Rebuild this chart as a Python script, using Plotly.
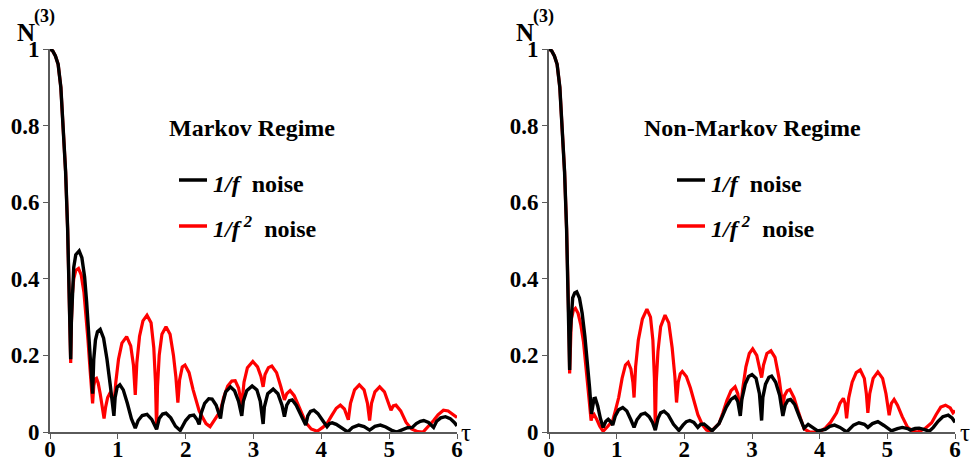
import plotly.graph_objects as go

# ---------------- data ----------------
tau_markov_f = [0, 0.04, 0.08, 0.12, 0.16, 0.2, 0.23, 0.26, 0.28, 0.295, 0.305,
    0.315, 0.33, 0.35, 0.38, 0.43, 0.47, 0.51, 0.54, 0.57, 0.6, 0.628,
    0.645, 0.67, 0.7, 0.74, 0.79, 0.84, 0.89, 0.942,
    0.96, 0.99, 1.03, 1.08, 1.14, 1.2, 1.257,
    1.3, 1.36, 1.43, 1.5, 1.571,
    1.61, 1.66, 1.71, 1.78, 1.85, 1.92,
    2.0, 2.06, 2.12, 2.17, 2.199,
    2.23, 2.28, 2.34, 2.39, 2.45, 2.513,
    2.54, 2.59, 2.66, 2.72, 2.78, 2.827,
    2.85, 2.9, 2.98, 3.05, 3.1, 3.142,
    3.16, 3.21, 3.29, 3.36, 3.42, 3.456,
    3.49, 3.53, 3.57, 3.63, 3.7, 3.77,
    3.8, 3.84, 3.89, 3.95, 4.02, 4.084,
    4.12, 4.16, 4.22, 4.3, 4.39,
    4.46, 4.55, 4.63, 4.712,
    4.79, 4.87, 4.95, 5.03, 5.11,
    5.2, 5.27, 5.34,
    5.4, 5.46, 5.51, 5.58, 5.655,
    5.7, 5.76, 5.83, 5.9, 5.96, 6.0]
N_markov_f = [1, 0.995, 0.982, 0.96, 0.9, 0.79, 0.68, 0.53, 0.40, 0.29, 0.19,
    0.29, 0.38, 0.43, 0.463, 0.473, 0.455, 0.405, 0.34, 0.265, 0.18, 0.10,
    0.19, 0.24, 0.262, 0.268, 0.245, 0.19, 0.12, 0.042,
    0.09, 0.117, 0.123, 0.11, 0.075, 0.035, 0.01,
    0.03, 0.043, 0.046, 0.033, 0.007,
    0.035, 0.047, 0.049, 0.037, 0.015, 0.004,
    0.03, 0.042, 0.044, 0.032, 0.02,
    0.05, 0.075, 0.087, 0.086, 0.07, 0.035,
    0.07, 0.105, 0.118, 0.108, 0.08, 0.042,
    0.08, 0.108, 0.12, 0.11, 0.08, 0.021,
    0.065, 0.1, 0.112, 0.1, 0.07, 0.04,
    0.07, 0.082, 0.084, 0.07, 0.045, 0.018,
    0.042, 0.054, 0.057, 0.048, 0.03, 0.014,
    0.022, 0.024, 0.02, 0.01, 0.0,
    0.012, 0.018, 0.014, 0.005,
    0.015, 0.018, 0.013, 0.005, 0.0,
    0.007, 0.011, 0.012,
    0.022, 0.028, 0.03, 0.025, 0.012,
    0.028, 0.037, 0.04, 0.035, 0.025, 0.016]

tau_markov_f2 = [0, 0.04, 0.08, 0.12, 0.16, 0.2, 0.23, 0.26, 0.28, 0.295, 0.305,
    0.315, 0.33, 0.35, 0.38, 0.42, 0.46, 0.5, 0.53, 0.56, 0.59, 0.628,
    0.645, 0.665, 0.685, 0.71, 0.74, 0.77, 0.797,
    0.82, 0.85, 0.88, 0.91, 0.942,
    0.97, 1.01, 1.06, 1.13, 1.19, 1.23, 1.257,
    1.28, 1.32, 1.37, 1.43, 1.49, 1.53, 1.555, 1.571,
    1.585, 1.61, 1.65, 1.71, 1.77, 1.82, 1.855, 1.885,
    1.91, 1.95, 1.99, 2.05, 2.11, 2.16, 2.199,
    2.25, 2.3, 2.36, 2.42, 2.47, 2.513,
    2.56, 2.62, 2.68, 2.73, 2.78, 2.827,
    2.86, 2.91, 2.99, 3.06, 3.11, 3.142,
    3.17, 3.22, 3.27, 3.34, 3.4, 3.456,
    3.49, 3.54, 3.6, 3.67, 3.74, 3.77,
    3.85, 3.94, 4.02, 4.084,
    4.15, 4.22, 4.28, 4.34, 4.398,
    4.43, 4.49, 4.56, 4.63, 4.68, 4.712,
    4.74, 4.79, 4.86, 4.93, 4.99, 5.027,
    5.06, 5.1, 5.17, 5.25, 5.33, 5.42, 5.5,
    5.58, 5.655, 5.72, 5.8, 5.87, 5.94, 6.0]
N_markov_f2 = [1, 0.995, 0.982, 0.96, 0.9, 0.79, 0.68, 0.53, 0.40, 0.28, 0.18,
    0.28, 0.36, 0.40, 0.422, 0.427, 0.41, 0.365, 0.31, 0.24, 0.165, 0.075,
    0.12, 0.138, 0.14, 0.128, 0.1, 0.065, 0.035,
    0.065, 0.09, 0.1, 0.095, 0.07,
    0.13, 0.19, 0.232, 0.249, 0.225, 0.175, 0.097,
    0.18, 0.25, 0.29, 0.305, 0.285, 0.22, 0.13, 0.008,
    0.12, 0.2, 0.255, 0.275, 0.255, 0.2, 0.145, 0.077,
    0.135, 0.17, 0.175, 0.155, 0.11, 0.075, 0.055,
    0.038, 0.022, 0.014, 0.03, 0.045, 0.055,
    0.09, 0.12, 0.133, 0.134, 0.115, 0.07,
    0.13, 0.168, 0.184, 0.17, 0.145, 0.118,
    0.15, 0.168, 0.172, 0.155, 0.12, 0.084,
    0.1, 0.108, 0.095, 0.065, 0.033, 0.025,
    0.008, 0.002, 0.012, 0.022,
    0.042, 0.062, 0.07, 0.06, 0.032,
    0.075, 0.11, 0.123, 0.11, 0.075, 0.03,
    0.075, 0.105, 0.118, 0.105, 0.078, 0.057,
    0.068, 0.07, 0.055, 0.025, 0.008, 0.001, 0.0,
    0.015, 0.03, 0.045, 0.057, 0.055, 0.045, 0.038]

tau_nonmarkov_f = [0, 0.04, 0.08, 0.12, 0.16, 0.2, 0.23, 0.26, 0.28, 0.295, 0.305,
    0.315, 0.33, 0.35, 0.38, 0.41, 0.45, 0.49, 0.53, 0.57, 0.6, 0.628,
    0.645, 0.665, 0.685, 0.72, 0.76, 0.8,
    0.84, 0.875, 0.91, 0.942,
    0.98, 1.03, 1.09, 1.15, 1.21, 1.257,
    1.3, 1.36, 1.42, 1.48, 1.53, 1.571,
    1.61, 1.65, 1.7, 1.76, 1.84, 1.92,
    1.98, 2.03, 2.08, 2.14, 2.199,
    2.24, 2.29, 2.35, 2.41, 2.46, 2.513,
    2.56, 2.62, 2.69, 2.75, 2.79, 2.827,
    2.85, 2.9, 2.95, 3.0, 3.06, 3.11, 3.142,
    3.16, 3.2, 3.25, 3.29, 3.35, 3.41, 3.456,
    3.49, 3.53, 3.57, 3.63, 3.7, 3.77,
    3.83, 3.9, 3.97, 4.03, 4.084,
    4.15, 4.22, 4.3, 4.4, 4.5, 4.58, 4.66, 4.712,
    4.78, 4.86, 4.95, 5.06, 5.15, 5.22, 5.3, 5.34,
    5.41, 5.47, 5.55, 5.62, 5.68, 5.75, 5.82, 5.9, 5.96, 6.0]
N_nonmarkov_f = [1, 0.995, 0.982, 0.96, 0.9, 0.79, 0.68, 0.53, 0.40, 0.28, 0.162,
    0.26, 0.32, 0.35, 0.363, 0.366, 0.35, 0.31, 0.25, 0.18, 0.115, 0.047,
    0.075, 0.087, 0.088, 0.068, 0.035, 0.012,
    0.028, 0.033, 0.027, 0.018,
    0.042, 0.058, 0.064, 0.055, 0.032, 0.012,
    0.032, 0.046, 0.049, 0.04, 0.025, 0.005,
    0.035, 0.05, 0.054, 0.045, 0.02, 0.004,
    0.018, 0.027, 0.03, 0.025, 0.012,
    0.02, 0.021, 0.012, 0.003, 0.012, 0.022,
    0.04, 0.065, 0.085, 0.092, 0.08, 0.042,
    0.085, 0.125, 0.145, 0.15, 0.14, 0.1, 0.03,
    0.09, 0.125, 0.143, 0.146, 0.13, 0.095, 0.042,
    0.07, 0.083, 0.085, 0.072, 0.04, 0.01,
    0.02, 0.012, 0.003, 0.005, 0.007,
    0.015, 0.018, 0.012, 0.0, 0.018, 0.024, 0.02, 0.012,
    0.022, 0.027, 0.017, 0.003, 0.009, 0.012, 0.009, 0.005,
    0.009, 0.01, 0.006, 0.002, 0.012, 0.028, 0.04, 0.044, 0.036, 0.025]

tau_nonmarkov_f2 = [0, 0.04, 0.08, 0.12, 0.16, 0.2, 0.23, 0.26, 0.28, 0.295, 0.305,
    0.315, 0.33, 0.36, 0.39, 0.43, 0.47, 0.51, 0.55, 0.59, 0.622,
    0.64, 0.665, 0.7, 0.75, 0.8, 0.87, 0.942,
    0.98, 1.03, 1.08, 1.13, 1.17, 1.21, 1.24, 1.257,
    1.28, 1.32, 1.38, 1.447, 1.5, 1.535, 1.558, 1.571,
    1.585, 1.61, 1.65, 1.715, 1.77, 1.82, 1.86, 1.885,
    1.91, 1.94, 1.97, 2.03, 2.09, 2.15, 2.2, 2.27, 2.33, 2.39, 2.45, 2.513,
    2.57, 2.63, 2.69, 2.75, 2.79, 2.827,
    2.86, 2.91, 2.96, 3.01, 3.07, 3.11, 3.142,
    3.17, 3.22, 3.28, 3.34, 3.4, 3.456,
    3.48, 3.52, 3.56, 3.62, 3.69, 3.77,
    3.85, 3.95, 4.03, 4.084, 4.16, 4.25, 4.3, 4.35, 4.375, 4.398,
    4.43, 4.48, 4.54, 4.6, 4.66, 4.69, 4.712,
    4.74, 4.79, 4.86, 4.93, 4.98, 5.027,
    5.06, 5.1, 5.15, 5.22, 5.3, 5.38, 5.45, 5.55, 5.655,
    5.72, 5.79, 5.86, 5.93, 5.97, 6.0]
N_nonmarkov_f2 = [1, 0.995, 0.982, 0.96, 0.9, 0.79, 0.68, 0.53, 0.40, 0.27, 0.153,
    0.25, 0.295, 0.318, 0.323, 0.31, 0.28, 0.235, 0.17, 0.09, 0.03,
    0.042, 0.046, 0.035, 0.015, 0.002, 0.015, 0.03,
    0.055, 0.09, 0.14, 0.175, 0.182, 0.165, 0.13, 0.09,
    0.17, 0.24, 0.295, 0.321, 0.3, 0.24, 0.14, 0.005,
    0.13, 0.21, 0.275, 0.305, 0.285, 0.22, 0.145, 0.077,
    0.13, 0.152, 0.158, 0.145, 0.115, 0.075, 0.045, 0.018, 0.005, 0.001, 0.01, 0.022,
    0.05, 0.083, 0.108, 0.118, 0.1, 0.053,
    0.11, 0.17, 0.205, 0.217, 0.2, 0.17, 0.142,
    0.175, 0.205, 0.212, 0.195, 0.14, 0.066,
    0.095, 0.108, 0.111, 0.09, 0.05, 0.008,
    0.0, 0.0, 0.004, 0.01, 0.025, 0.05, 0.075, 0.088, 0.075, 0.036,
    0.09, 0.13, 0.155, 0.162, 0.14, 0.1, 0.05,
    0.1, 0.14, 0.157, 0.14, 0.1, 0.044,
    0.075, 0.085, 0.07, 0.04, 0.012, 0.002, 0.0, 0.008, 0.024,
    0.045, 0.065, 0.07, 0.063, 0.05, 0.056]

x_ticks = [0, 1, 2, 3, 4, 5, 6]
y_ticks = [0, 0.2, 0.4, 0.6, 0.8, 1]
y_tick_text = ["0", "0.2", "0.4", "0.6", "0.8", "1"]
panel_titles = ["Markov Regime", "Non-Markov Regime"]
series_names = ["<b><i>1/f</i>  noise</b>", "<b><i>1/f<sup> 2</sup></i>  noise</b>"]

# ---------------- figure ----------------
W, H = 972, 465
FONT = '"Liberation Serif", "Times New Roman", serif'
RED = "#ff0000"
BLACK = "#000000"


def px(x):
    return x / W


def py(y):
    return 1 - y / H


fig = go.Figure()
panels = [
    ("x", "y", tau_markov_f, N_markov_f, tau_markov_f2, N_markov_f2),
    ("x2", "y2", tau_nonmarkov_f, N_nonmarkov_f, tau_nonmarkov_f2, N_nonmarkov_f2),
]
for xa, ya, t1, n1, t2, n2 in panels:
    fig.add_trace(go.Scatter(x=t2, y=n2, mode="lines", xaxis=xa, yaxis=ya,
                             line=dict(color=RED, width=3.2), cliponaxis=False,
                             showlegend=False))
    fig.add_trace(go.Scatter(x=t1, y=n1, mode="lines", xaxis=xa, yaxis=ya,
                             line=dict(color=BLACK, width=3.4), cliponaxis=False,
                             showlegend=False))

tickfont = dict(family=FONT, size=23, color="black", weight="bold")
axis_common = dict(showgrid=False, zeroline=False, showline=True, linecolor="#5a5a5a",
                   linewidth=1.6, ticks="outside", ticklen=5, tickwidth=1.4,
                   tickcolor="#5a5a5a", tickfont=tickfont, automargin=False)

y_dom = [py(432), py(49)]
fig.update_layout(
    width=W, height=H,
    margin=dict(l=0, r=0, t=0, b=0, pad=0, autoexpand=False),
    paper_bgcolor="white", plot_bgcolor="white",
    xaxis=dict(domain=[px(50), px(457)], range=[0, 6], tickvals=x_ticks,
               anchor="y", ticklabelstandoff=-9, **axis_common),
    yaxis=dict(domain=y_dom, range=[0, 1], tickvals=y_ticks, ticktext=y_tick_text,
               anchor="x", ticklabelstandoff=-1, **axis_common),
    xaxis2=dict(domain=[px(549), px(955)], range=[0, 6], tickvals=x_ticks,
                anchor="y2", ticklabelstandoff=-9, **axis_common),
    yaxis2=dict(domain=y_dom, range=[0, 1], tickvals=y_ticks, ticktext=y_tick_text,
                anchor="x2", ticklabelstandoff=-1, **axis_common),
)

ann = []
shapes = []
bold = dict(family=FONT, color="black", weight="bold")
for off, title_cx, leg_x0 in [(0, 252, 179), (499, 752, 677)]:
    # y-axis label N^(3) (the tick label "1" acts as the subscript)
    ann.append(dict(x=px(26 + off), y=py(32), xref="paper", yref="paper", text="N",
                    showarrow=False, font=dict(size=25, **bold),
                    xanchor="center", yanchor="middle"))
    ann.append(dict(x=px(44 + off), y=py(16), xref="paper", yref="paper", text="(3)",
                    showarrow=False, font=dict(size=18, **bold),
                    xanchor="center", yanchor="middle"))
    # tau label
    ann.append(dict(x=px(466 + off), y=py(432), xref="paper", yref="paper", text="τ",
                    showarrow=False, font=dict(family=FONT, size=25, color="black"),
                    xanchor="center", yanchor="middle"))
    # panel title
    ann.append(dict(x=px(title_cx), y=py(128), xref="paper", yref="paper",
                    text="<b>%s</b>" % panel_titles[0 if off == 0 else 1],
                    showarrow=False, font=dict(size=24, **bold),
                    xanchor="center", yanchor="middle"))
    # legend entries
    for k, (yl, col) in enumerate([(180, BLACK), (226, RED)]):
        shapes.append(dict(type="line", xref="paper", yref="paper",
                           x0=px(leg_x0), x1=px(leg_x0 + 28), y0=py(yl), y1=py(yl),
                           line=dict(color=col, width=3.5)))
        ann.append(dict(x=px(leg_x0 + 32), y=py(yl + 4 if k == 0 else yl + 1),
                        xref="paper", yref="paper", text=series_names[k],
                        showarrow=False, font=dict(size=24, **bold),
                        xanchor="left", yanchor="middle"))

fig.update_layout(annotations=ann, shapes=shapes)
fig.write_html("out.html")
